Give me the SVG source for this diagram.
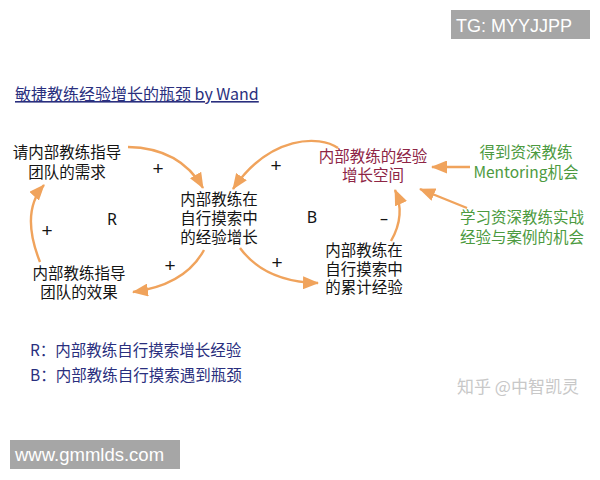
<svg xmlns="http://www.w3.org/2000/svg" width="600" height="480" viewBox="0 0 600 480">
<defs>
<style>
.t{font-family:"Noto Sans CJK SC","Noto Sans",sans-serif;font-size:15.5px;text-anchor:middle}
.k{fill:#141414}
.r{fill:#8e2545}
.g{fill:#4c9a40}
.b{fill:#2a2f7e}
.s{font-family:"Noto Sans","Liberation Sans",sans-serif;font-size:16px;fill:#141414;text-anchor:middle}
.p{font-family:"Liberation Sans",Arial,sans-serif;font-size:19px;fill:#141414;text-anchor:middle}
.c{fill:none;stroke:#f0a35c;stroke-width:2.4;marker-end:url(#ah)}
.w{font-family:"Liberation Sans",Arial,sans-serif;fill:#ffffff}
</style>
<marker id="ah" markerUnits="userSpaceOnUse" markerWidth="16" markerHeight="13" refX="15" refY="6.5" orient="auto">
<path d="M0,0 L16,6.5 L0,13 z" fill="#f0a35c"/>
</marker>
</defs>
<rect width="600" height="480" fill="#ffffff"/>

<g id="watermark-tg">
<rect x="451" y="10" width="139" height="29" fill="#a6a6a6"/>
<text class="w" x="456" y="32" font-size="18">TG: MYYJJPP</text>
</g>

<g id="title">
<text x="15" y="100" font-family="'Noto Sans CJK SC','Noto Sans',sans-serif" font-size="16" fill="#2a2f7e" text-decoration="underline">敏捷教练经验增长的瓶颈 by Wand</text>
</g>

<g id="connectors">
<path class="c" d="M128,147 Q180,148 203,188"/>
<path class="c" d="M338,148 C320,135 270,135 233,189"/>
<path class="c" d="M204,250 Q185,285 133,292"/>
<path class="c" d="M240,248 Q265,282 318,283"/>
<path class="c" d="M40,262 Q20,212 44,185"/>
<path class="c" d="M391,241 Q406,215 395,190"/>
<path class="c" d="M470,167 L432,167"/>
<path class="c" d="M467,208 L420,189"/>
</g>

<g id="node-demand">
<text class="t k" x="67" y="158">请内部教练指导</text>
<text class="t k" x="67" y="178">团队的需求</text>
</g>
<g id="node-growth">
<text class="t k" x="219" y="205">内部教练在</text>
<text class="t k" x="219" y="224">自行摸索中</text>
<text class="t k" x="219" y="243">的经验增长</text>
</g>
<g id="node-effect">
<text class="t k" x="79" y="279">内部教练指导</text>
<text class="t k" x="79" y="298">团队的效果</text>
</g>
<g id="node-space">
<text class="t r" x="373" y="162">内部教练的经验</text>
<text class="t r" x="373" y="181">增长空间</text>
</g>
<g id="node-accum">
<text class="t k" x="364" y="256">内部教练在</text>
<text class="t k" x="364" y="275">自行摸索中</text>
<text class="t k" x="364" y="293">的累计经验</text>
</g>
<g id="node-mentoring">
<text class="t g" x="526" y="158">得到资深教练</text>
<text class="t g" x="526" y="178">Mentoring机会</text>
</g>
<g id="node-learning">
<text class="t g" x="522" y="223">学习资深教练实战</text>
<text class="t g" x="522" y="243">经验与案例的机会</text>
</g>

<g id="labels">
<text class="s" x="112" y="225">R</text>
<text class="s" x="312" y="223">B</text>
<text class="s" x="384" y="224">–</text>
<text class="p" x="158" y="175">+</text>
<text class="p" x="47" y="237">+</text>
<text class="p" x="170" y="272">+</text>
<text class="p" x="277" y="269">+</text>
<text class="p" x="276" y="172">+</text>
</g>

<g id="legend">
<text class="t b" x="30" y="356" style="text-anchor:start">R：内部教练自行摸索增长经验</text>
<text class="t b" x="30" y="381" style="text-anchor:start">B：内部教练自行摸索遇到瓶颈</text>
</g>

<g id="watermark-zhihu">
<text x="457" y="393" font-family="'Noto Sans CJK SC','Noto Sans',sans-serif" font-size="17" fill="#c8c8c8">知乎 @中智凯灵</text>
</g>

<g id="watermark-www">
<rect x="10" y="440" width="170" height="29" fill="#a6a6a6"/>
<text class="w" x="15" y="461" font-size="18.5">www.gmmlds.com</text>
</g>
</svg>
